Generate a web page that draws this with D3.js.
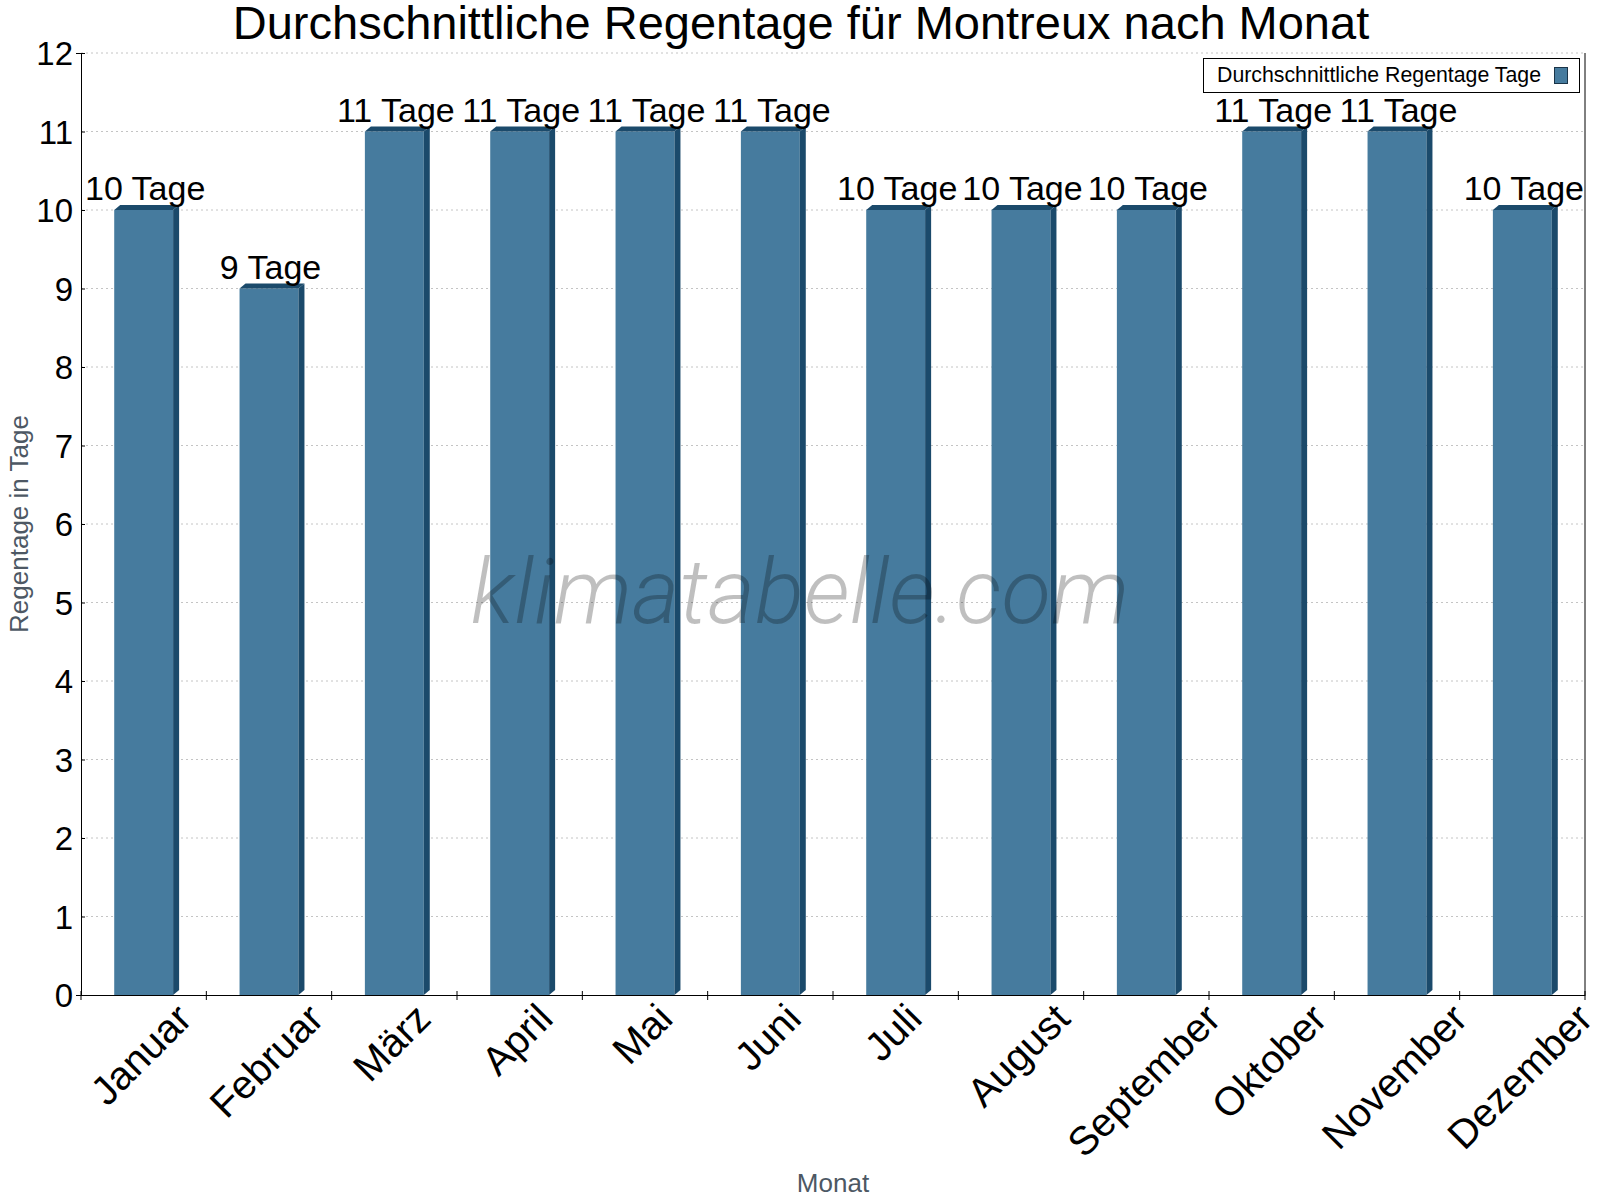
<!DOCTYPE html>
<html>
<head>
<meta charset="utf-8">
<script src="https://cdn.jsdelivr.net/npm/d3@7"></script>
<style>
  body { margin: 0; background: #fff; }
  svg { font-family: "Liberation Sans", Arial, sans-serif; }
</style>
</head>
<body>
<svg id="chart" width="1600" height="1200"></svg>
<script>
var months = ["Januar", "Februar", "März", "April", "Mai", "Juni", "Juli", "August", "September", "Oktober", "November", "Dezember"];
var rainDays = [10, 9, 11, 11, 11, 11, 10, 10, 10, 11, 11, 10];
var yTicks = [0, 1, 2, 3, 4, 5, 6, 7, 8, 9, 10, 11, 12];
var seriesName = "Durchschnittliche Regentage Tage";

var plotLeft = 81, plotRight = 1585, plotTop = 53, plotBottom = 995;
var depthX = 6, depthY = 5;
var front = "#467b9e", dark = "#1b4a6b";

var svg = d3.select("#chart");

var x = d3.scaleBand().domain(months).range([plotLeft, plotRight]);
var y = d3.scaleLinear().domain([0, 12]).range([plotBottom, plotTop]);
var barW = x.bandwidth() * 0.47;

// title
svg.append("text")
  .attr("x", 801).attr("y", 39)
  .attr("text-anchor", "middle")
  .attr("font-size", 47)
  .text("Durchschnittliche Regentage für Montreux nach Monat");

// grid
svg.append("g").selectAll("line")
  .data(yTicks.filter(function(d) { return d > 0; }))
  .enter().append("line")
  .attr("x1", plotLeft).attr("x2", plotRight)
  .attr("y1", function(d) { return y(d); })
  .attr("y2", function(d) { return y(d); })
  .attr("stroke", "#c4c4c4")
  .attr("stroke-dasharray", "2,3");

// bars
var bars = svg.append("g").selectAll("g")
  .data(months)
  .enter().append("g");

bars.append("rect")
  .attr("x", function(d) { return x(d) + (x.bandwidth() - barW) / 2; })
  .attr("y", function(d, i) { return y(rainDays[i]); })
  .attr("width", barW)
  .attr("height", function(d, i) { return plotBottom - y(rainDays[i]); })
  .attr("fill", front);

// side face
bars.append("path")
  .attr("fill", dark)
  .attr("d", function(d, i) {
    var x1 = x(d) + (x.bandwidth() + barW) / 2, yt = y(rainDays[i]);
    return "M" + x1 + "," + yt + "L" + (x1 + depthX) + "," + (yt - depthY) +
      "L" + (x1 + depthX) + "," + (plotBottom - depthY) + "L" + x1 + "," + plotBottom + "Z";
  });

// top face
bars.append("path")
  .attr("fill", dark)
  .attr("d", function(d, i) {
    var x0 = x(d) + (x.bandwidth() - barW) / 2, yt = y(rainDays[i]);
    return "M" + x0 + "," + yt + "L" + (x0 + depthX) + "," + (yt - depthY) +
      "L" + (x0 + barW + depthX) + "," + (yt - depthY) + "L" + (x0 + barW) + "," + yt + "Z";
  });

// value labels
bars.append("text")
  .attr("x", function(d) { return x(d) + x.bandwidth() / 2 + 1.5; })
  .attr("y", function(d, i) { return y(rainDays[i]) - 10; })
  .attr("text-anchor", "middle")
  .attr("font-size", 34)
  .text(function(d, i) { return rainDays[i] + " Tage"; });

// y axis
var yAxis = svg.append("g")
  .attr("transform", "translate(" + plotLeft + ",0)")
  .call(d3.axisLeft(y).tickValues(yTicks).tickSize(5).tickPadding(3).tickFormat(d3.format("d")));
yAxis.select(".domain").attr("stroke", "#000");
yAxis.selectAll(".tick line").attr("x2", 4).attr("stroke", "#000");
yAxis.selectAll(".tick text")
  .attr("font-size", 33).attr("font-family", null)
  .attr("dy", "0.36em").attr("fill", "#000");

// x axis
var xAxis = svg.append("g")
  .attr("transform", "translate(0," + plotBottom + ")")
  .call(d3.axisBottom(x).tickSize(0).tickFormat(""));
xAxis.select(".domain").attr("stroke", "#000");

var bounds = months.map(function(m) { return x(m); }).concat([plotRight]);
svg.append("g").selectAll("line")
  .data(bounds)
  .enter().append("line")
  .attr("x1", function(d) { return d; }).attr("x2", function(d) { return d; })
  .attr("y1", plotBottom - 4).attr("y2", plotBottom + 5)
  .attr("stroke", "#000");

// month labels, rotated, box centred under the band
var labels = svg.append("g").selectAll("text")
  .data(months)
  .enter().append("text")
  .attr("text-anchor", "end")
  .attr("font-size", 40)
  .text(function(d) { return d; });
labels.attr("transform", function(d) {
  var w = this.getComputedTextLength();
  var ex = x(d) + x.bandwidth() / 2 + 0.354 * w + 7;
  return "translate(" + ex + ",1021) rotate(-45)";
});

// right border
svg.append("line")
  .attr("x1", plotRight).attr("x2", plotRight)
  .attr("y1", plotTop).attr("y2", plotBottom)
  .attr("stroke", "#000");

// axis titles
svg.append("text")
  .attr("transform", "translate(28," + ((plotTop + plotBottom) / 2) + ") rotate(-90)")
  .attr("text-anchor", "middle")
  .attr("font-size", 26)
  .attr("fill", "#4d5864")
  .text("Regentage in Tage");

svg.append("text")
  .attr("x", (plotLeft + plotRight) / 2).attr("y", 1192)
  .attr("text-anchor", "middle")
  .attr("font-size", 26)
  .attr("fill", "#4d5864")
  .text("Monat");

// watermark
svg.append("text")
  .attr("x", 800).attr("y", 623)
  .attr("text-anchor", "middle")
  .attr("font-family", "Roboto, sans-serif")
  .attr("font-style", "italic")
  .attr("font-weight", 300)
  .attr("font-size", 91)
  .attr("fill", "rgba(0,0,0,0.25)")
  .text("klimatabelle.com");

// legend
var legend = svg.append("g");
legend.append("rect")
  .attr("x", 1203.5).attr("y", 58.5).attr("width", 376).attr("height", 34)
  .attr("fill", "#fff").attr("stroke", "#000");
legend.append("text")
  .attr("x", 1217).attr("y", 82)
  .attr("font-size", 21.3)
  .text(seriesName);
legend.append("rect")
  .attr("x", 1554.5).attr("y", 67.5).attr("width", 13).attr("height", 16)
  .attr("fill", front).attr("stroke", "#1a3448");
</script>
</body>
</html>
